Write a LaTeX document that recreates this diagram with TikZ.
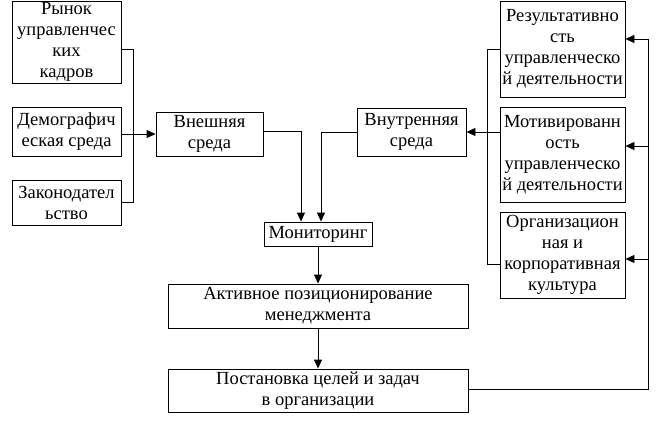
\documentclass[tikz,border=0pt]{standalone}
\usepackage{fontspec}
\setmainfont{Liberation Serif}
\newfontfamily\boxfont{Liberation Serif}
\usetikzlibrary{arrows.meta}
\begin{document}
\begin{tikzpicture}[x=1pt,y=-1pt,
  box/.style={draw,line width=0.9pt,inner sep=0pt,align=center,
    font=\boxfont\fontsize{18.5}{21}\selectfont},
  link/.style={line width=0.9pt},
  arr/.style={line width=0.9pt,-{Triangle[length=9pt,width=8pt]}}]
\useasboundingbox (0,0) rectangle (660,420);
% left column
\node[box,minimum width=109,minimum height=82] (r1) at (66.5,42) {Рынок\\управленчес\\ких\\кадров};
\node[box,minimum width=109,minimum height=49] (d) at (66.5,131.5) {Демографич\\еская среда};
\node[box,minimum width=109,minimum height=45] (z) at (66.5,202.5) {Законодател\\ьство};
% middle
\node[box,minimum width=107,minimum height=44] (vn) at (209.5,134) {Внешняя\\среда};
\node[box,minimum width=109,minimum height=48] (vt) at (411.5,132) {Внутренняя\\среда};
\node[box,minimum width=108,minimum height=24] (mon) at (318,234) {Мониторинг};
\node[box,minimum width=300,minimum height=44] (akt) at (318,306) {Активное позиционирование\\менеджмента};
\node[box,minimum width=300,minimum height=43] (post) at (318,390.5) {Постановка целей и задач\\в организации};
% right column
\node[box,minimum width=125,minimum height=96] (R1) at (562.5,49) {Результативно\\сть\\управленческо\\й деятельности};
\node[box,minimum width=125,minimum height=95] (R2) at (562.5,154.5) {Мотивированн\\ость\\управленческо\\й деятельности};
\node[box,minimum width=125,minimum height=86] (R3) at (562.5,255) {Организацион\\ная и\\корпоративная\\культура};
% helper coordinates
\coordinate (bl) at (133,0);
\coordinate (br) at (487,0);
\coordinate (bo) at (648,0);
\coordinate (r1e) at ([yshift=-7pt]r1.east);
\coordinate (vne) at ([yshift=3pt]vn.east);
\coordinate (monL) at ([xshift=-17pt]mon.north);
\coordinate (monR) at ([xshift=3pt]mon.north);
\coordinate (R3w) at ([yshift=-9pt]R3.west);
\coordinate (poste) at ([yshift=1.5pt]post.east);
\coordinate (R1e) at ([yshift=10pt]R1.east);
\coordinate (R2e) at ([yshift=8.5pt]R2.east);
\coordinate (R3e) at ([yshift=-4pt]R3.east);
% left bracket
\draw[link] (r1e) -| (bl |- z.east) -- (z.east);
\draw[arr] (d.east |- vn.west) -- (vn.west);
% to monitoring
\draw[arr] (vne) -| (monL);
\draw[arr] (vt.west) -| (monR);
\draw[arr] (mon.south) -- (akt.north);
\draw[arr] (akt.south) -- (post.north);
% right bracket
\draw[link] (R1.west) -| (br |- R3w) -- (R3w);
\draw[arr] (R2.west |- vt.east) -- (vt.east);
% outer feedback
\draw[link] (poste) -| (bo |- R1e);
\draw[arr] (bo |- R1e) -- (R1e);
\draw[arr] (bo |- R2e) -- (R2e);
\draw[arr] (bo |- R3e) -- (R3e);
\end{tikzpicture}
\end{document}
